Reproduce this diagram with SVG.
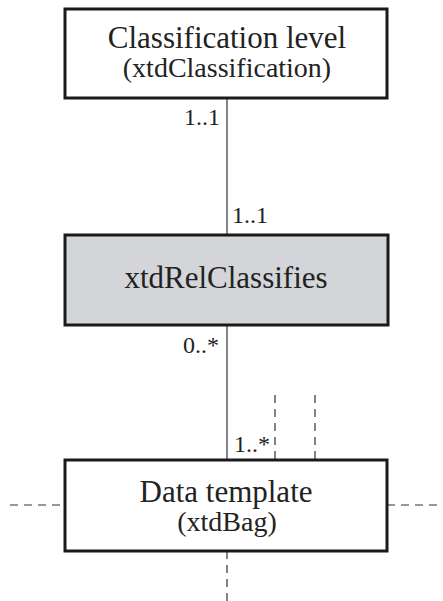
<svg xmlns="http://www.w3.org/2000/svg" width="443" height="601" viewBox="0 0 443 601">
  <style>
    .box { fill: #ffffff; stroke: #1a1a1a; stroke-width: 3; }
    .rel { fill: #d3d5d8; stroke: #1a1a1a; stroke-width: 3; }
    .line { stroke: #333333; stroke-width: 1.2; fill: none; }
    .dash { stroke: #333333; stroke-width: 1.2; fill: none; stroke-dasharray: 8 6; }
    .t { font-family: "Liberation Serif", "DejaVu Serif", serif; fill: #222222; text-anchor: middle; }
    .m { font-family: "Liberation Serif", "DejaVu Serif", serif; fill: #222222; font-size: 24px; }
  </style>
  <rect width="443" height="601" fill="#ffffff"/>

  <g id="connectors">
    <line class="line" x1="227" y1="98" x2="227" y2="234"/>
    <line class="line" x1="227" y1="325" x2="227" y2="459"/>
    <line class="dash" x1="275" y1="395" x2="275" y2="459"/>
    <line class="dash" x1="315" y1="395" x2="315" y2="459"/>
    <line class="dash" x1="10" y1="505" x2="65" y2="505"/>
    <line class="dash" x1="387" y1="505" x2="443" y2="505"/>
    <line class="dash" x1="227" y1="551" x2="227" y2="601"/>
    <text class="m" x="220" y="125" text-anchor="end">1..1</text>
    <text class="m" x="232" y="223">1..1</text>
    <text class="m" x="219" y="353" text-anchor="end">0..*</text>
    <text class="m" x="234" y="452">1..*</text>
  </g>

  <g id="classification-level">
    <rect class="box" x="65" y="9" width="322" height="89"/>
    <text class="t" x="227" y="48" font-size="31">Classification level</text>
    <text class="t" x="227" y="77" font-size="28">(xtdClassification)</text>
  </g>

  <g id="xtd-rel-classifies">
    <rect class="rel" x="65" y="235" width="323" height="90"/>
    <text class="t" x="226" y="288" font-size="31">xtdRelClassifies</text>
  </g>

  <g id="data-template">
    <rect class="box" x="65" y="460" width="322" height="91"/>
    <text class="t" x="226" y="502" font-size="31">Data template</text>
    <text class="t" x="227" y="531" font-size="28">(xtdBag)</text>
  </g>
</svg>
